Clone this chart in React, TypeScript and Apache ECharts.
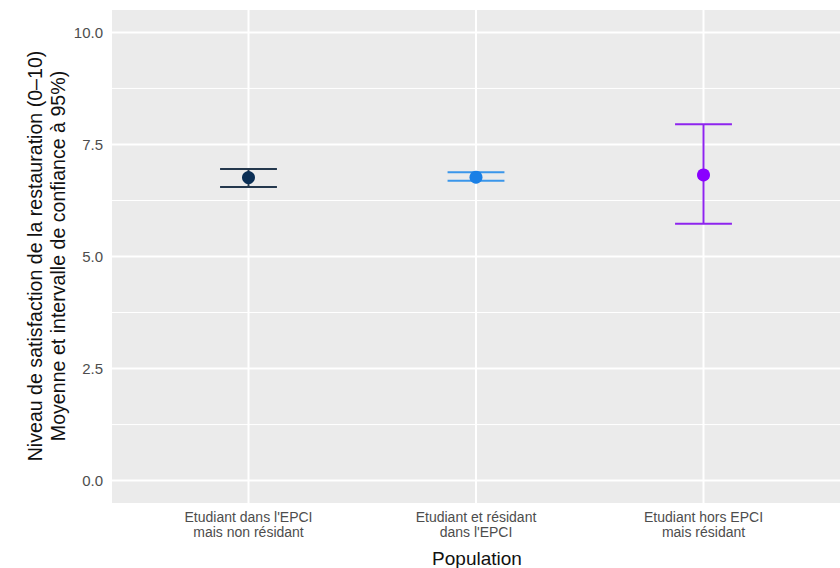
import React, { useEffect, useRef } from "react";
import * as echarts from "echarts";

const categories = [
  "Etudiant dans l'EPCI\nmais non résidant",
  "Etudiant et résidant\ndans l'EPCI",
  "Etudiant hors EPCI\nmais résidant",
];
const means = [6.76, 6.77, 6.82];
const lowers = [6.55, 6.69, 5.73];
const uppers = [6.95, 6.88, 7.95];
const yTicks = [0, 2.5, 5, 7.5, 10];
const yMinor = [1.25, 3.75, 6.25, 8.75];
const xTicks = [0, 1, 2];

const pointColors = ["#0b2f55", "#1a80e6", "#8a00ff"];
const barColors = ["#24384d", "#3a96ea", "#8e24ee"];

const FONT = "'Liberation Sans', Arial, sans-serif";

export default function App() {
  const ref = useRef<HTMLDivElement>(null);
  useEffect(() => {
    if (!ref.current) return;
    const chart = echarts.init(ref.current, undefined, { renderer: "svg" });

    const hLine = (width: number) => (params: any, api: any) => {
      const p = api.coord([0, api.value(1)]);
      const cs = params.coordSys;
      return {
        type: "line",
        shape: { x1: cs.x, y1: p[1], x2: cs.x + cs.width, y2: p[1] },
        style: { stroke: "#ffffff", lineWidth: width },
        silent: true,
      };
    };
    const vLine = (width: number) => (params: any, api: any) => {
      const p = api.coord([api.value(0), 0]);
      const cs = params.coordSys;
      return {
        type: "line",
        shape: { x1: p[0], y1: cs.y, x2: p[0], y2: cs.y + cs.height },
        style: { stroke: "#ffffff", lineWidth: width },
        silent: true,
      };
    };

    chart.setOption({
      animation: false,
      grid: {
        left: 112,
        right: -3,
        top: 10,
        bottom: 65,
        show: true,
        backgroundColor: "#ebebeb",
        borderWidth: 0,
      },
      xAxis: {
        type: "value",
        min: -0.6,
        max: 2.6,
        axisLine: { show: false },
        splitLine: { show: false },
        axisTick: {
          show: true,
          customValues: xTicks,
          length: 4,
          lineStyle: { color: "#333333", width: 1 },
        },
        axisLabel: {
          show: true,
          customValues: xTicks,
          formatter: (v: number) => categories[Math.round(v)],
          color: "#4d4d4d",
          fontSize: 14,
          fontFamily: FONT,
          lineHeight: 15,
          margin: 6,
        },
      },
      yAxis: {
        type: "value",
        min: -0.5,
        max: 10.5,
        axisLine: { show: false },
        splitLine: { show: false },
        axisTick: {
          show: true,
          customValues: yTicks,
          length: 4,
          lineStyle: { color: "#333333", width: 1 },
        },
        axisLabel: {
          show: true,
          customValues: yTicks,
          formatter: (v: number) => v.toFixed(1),
          color: "#4d4d4d",
          fontSize: 15,
          fontFamily: FONT,
          margin: 9,
        },
      },
      graphic: [
        {
          type: "text",
          x: 46,
          y: 256,
          rotation: Math.PI / 2,
          style: {
            text:
              "Niveau de satisfaction de la restauration (0–10)\nMoyenne et intervalle de confiance à 95%)",
            font: `19.6px ${FONT}`,
            fill: "#111111",
            textAlign: "center",
            textVerticalAlign: "middle",
            lineHeight: 23,
          },
        },
        {
          type: "text",
          x: 477,
          y: 558,
          style: {
            text: "Population",
            font: `19px ${FONT}`,
            fill: "#111111",
            textAlign: "center",
            textVerticalAlign: "middle",
          },
        },
      ],
      series: [
        {
          type: "custom",
          renderItem: hLine(1),
          data: yMinor.map((v) => [0, v]),
          z: 1,
          silent: true,
        },
        {
          type: "custom",
          renderItem: hLine(2),
          data: yTicks.map((v) => [0, v]),
          z: 1,
          silent: true,
        },
        {
          type: "custom",
          renderItem: vLine(2),
          data: xTicks.map((v) => [v, 0]),
          z: 1,
          silent: true,
        },
        {
          type: "custom",
          z: 3,
          renderItem: (params: any, api: any) => {
            const x = api.value(0);
            const lo = api.coord([x, api.value(1)]);
            const hi = api.coord([x, api.value(2)]);
            const half = api.size([0.125, 0])[0];
            const color = barColors[params.dataIndex];
            const style = { stroke: color, lineWidth: 2 };
            return {
              type: "group",
              children: [
                { type: "line", shape: { x1: lo[0], y1: lo[1], x2: hi[0], y2: hi[1] }, style },
                { type: "line", shape: { x1: hi[0] - half, y1: hi[1], x2: hi[0] + half, y2: hi[1] }, style },
                { type: "line", shape: { x1: lo[0] - half, y1: lo[1], x2: lo[0] + half, y2: lo[1] }, style },
              ],
            };
          },
          data: xTicks.map((x, i) => [x, lowers[i], uppers[i]]),
        },
        {
          type: "scatter",
          z: 4,
          symbol: "circle",
          symbolSize: 13,
          itemStyle: { color: (p: any) => pointColors[p.dataIndex], opacity: 1 },
          data: xTicks.map((x, i) => [x, means[i]]),
        },
      ],
    });
    return () => chart.dispose();
  }, []);
  return (
    <div
      ref={ref}
      style={{ position: "fixed", left: 0, top: 0, width: 840, height: 568, background: "#ffffff" }}
    />
  );
}
